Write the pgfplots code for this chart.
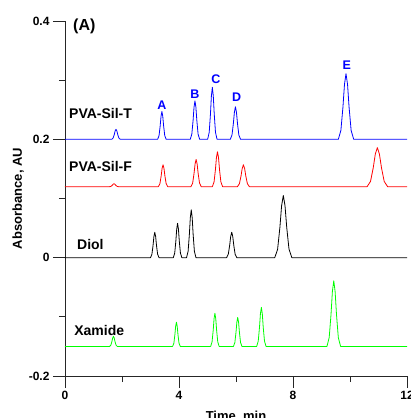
\documentclass[border=0pt]{standalone}
\usepackage{pgfplots}
\pgfplotsset{compat=1.18}
\usepackage{fontspec}
\setmainfont{Liberation Sans}

\definecolor{trblue}{RGB}{0,0,255}
\definecolor{trred}{RGB}{255,0,0}
\definecolor{trgreen}{RGB}{0,255,0}

\tikzset{
  trace/.style={line width=0.8pt, line join=round},
  tlabel/.style={font=\fontsize{14}{14}\selectfont\bfseries, anchor=west, inner sep=0pt},
  plabel/.style={font=\fontsize{12.5}{12.5}\selectfont\bfseries, text=trblue, inner sep=0pt},
}

\begin{document}
\begin{tikzpicture}
  \useasboundingbox (0,0) rectangle (411pt,418pt);
  \begin{axis}[at={(65pt,42pt)}, anchor=south west,
               width=342pt, height=355pt, scale only axis,
               xmin=0, xmax=12, ymin=-0.2, ymax=0.4,
               axis x line*=bottom, axis y line*=left,
               axis line style={line width=0.8pt, black!85},
               tick style={line width=0.8pt, black!85},
               tick align=outside,
               major tick length=12pt, minor tick length=6pt,
               xtick={0,4,8,12}, xticklabels={0,4,8,12},
               ytick={-0.2,0,0.2,0.4}, yticklabels={-0.2,0,0.2,0.4},
               minor x tick num=1, minor y tick num=1,
               tick label style={font=\fontsize{12}{12}\selectfont\bfseries},
               xlabel={Time, min}, ylabel={Absorbance, AU},
               label style={font=\fontsize{13}{13}\selectfont\bfseries},
               xlabel style={at={(axis description cs:0.5,-0.116)}, anchor=center},
               ylabel style={at={(axis description cs:-0.137,0.5)}, anchor=center},
               clip=false]
    % PVA-Sil-T
    \addplot[trace, trblue] coordinates {
      (0,0.2) (1.64,0.2) (1.69,0.2023) (1.73,0.2083) (1.76,0.2142) (1.79,0.217) (1.82,0.2142) (1.85,0.2083) (1.89,0.2023) (1.94,0.2)
      (3.25,0.2) (3.30,0.2063) (3.34,0.2229) (3.37,0.2392) (3.40,0.247) (3.43,0.2392) (3.46,0.2229) (3.50,0.2063) (3.55,0.2)
      (4.395,0.2) (4.45,0.2088) (4.494,0.2317) (4.527,0.2543) (4.56,0.265) (4.593,0.2543) (4.626,0.2317) (4.67,0.2088) (4.725,0.2)
      (5.005,0.2) (5.06,0.2119) (5.104,0.2429) (5.137,0.2735) (5.17,0.288) (5.203,0.2735) (5.236,0.2429) (5.28,0.2119) (5.335,0.2)
      (5.80,0.2) (5.86,0.2074) (5.908,0.2268) (5.944,0.2459) (5.98,0.255) (6.016,0.2459) (6.052,0.2268) (6.10,0.2074) (6.16,0.2)
      (9.59,0.2) (9.68,0.215) (9.752,0.2541) (9.806,0.2927) (9.86,0.311) (9.914,0.2927) (9.968,0.2541) (10.04,0.215) (10.13,0.2)
      (12,0.2)};
    % PVA-Sil-F
    \addplot[trace, trred] coordinates {
      (0,0.12) (1.57,0.12) (1.62,0.1207) (1.66,0.1224) (1.69,0.1242) (1.72,0.125) (1.75,0.1242) (1.78,0.1224) (1.82,0.1207) (1.87,0.12)
      (3.275,0.12) (3.33,0.125) (3.374,0.138) (3.407,0.1509) (3.44,0.157) (3.473,0.1509) (3.506,0.138) (3.55,0.125) (3.605,0.12)
      (4.42,0.12) (4.48,0.1262) (4.528,0.1424) (4.564,0.1584) (4.60,0.166) (4.636,0.1584) (4.672,0.1424) (4.72,0.1262) (4.78,0.12)
      (5.17,0.12) (5.23,0.128) (5.278,0.1487) (5.314,0.1693) (5.35,0.179) (5.386,0.1693) (5.422,0.1487) (5.47,0.128) (5.53,0.12)
      (6.05,0.12) (6.12,0.125) (6.176,0.138) (6.218,0.1509) (6.26,0.157) (6.302,0.1509) (6.344,0.138) (6.40,0.125) (6.47,0.12)
      (10.60,0.12) (10.72,0.1289) (10.816,0.1521) (10.888,0.1751) (10.96,0.186) (11.032,0.1751) (11.104,0.1521) (11.20,0.1289) (11.32,0.12)
      (12,0.12)};
    % Diol
    \addplot[trace, black] coordinates {
      (0,0) (3.00,0) (3.05,0.0058) (3.09,0.0209) (3.12,0.0359) (3.15,0.043) (3.18,0.0359) (3.21,0.0209) (3.25,0.0058) (3.30,0)
      (3.80,0) (3.85,0.0078) (3.89,0.0282) (3.92,0.0484) (3.95,0.058) (3.98,0.0484) (4.01,0.0282) (4.05,0.0078) (4.10,0)
      (4.265,0) (4.32,0.0109) (4.364,0.0394) (4.397,0.0676) (4.43,0.081) (4.463,0.0676) (4.496,0.0394) (4.54,0.0109) (4.595,0)
      (5.67,0) (5.73,0.0058) (5.778,0.0209) (5.814,0.0359) (5.85,0.043) (5.886,0.0359) (5.922,0.0209) (5.97,0.0058) (6.03,0)
      (7.36,0) (7.46,0.0142) (7.54,0.0511) (7.60,0.0877) (7.66,0.105) (7.72,0.0877) (7.78,0.0511) (7.86,0.0142) (7.96,0)
      (12,0)};
    % Xamide
    \addplot[trace, trgreen] coordinates {
      (0,-0.15) (1.565,-0.15) (1.61,-0.1477) (1.646,-0.1417) (1.673,-0.1358) (1.70,-0.133) (1.727,-0.1358) (1.754,-0.1417) (1.79,-0.1477) (1.835,-0.15)
      (3.775,-0.15) (3.82,-0.1445) (3.856,-0.13) (3.883,-0.1158) (3.91,-0.109) (3.937,-0.1158) (3.964,-0.13) (4.00,-0.1445) (4.045,-0.15)
      (5.11,-0.15) (5.16,-0.1424) (5.20,-0.1227) (5.23,-0.1032) (5.26,-0.094) (5.29,-0.1032) (5.32,-0.1227) (5.36,-0.1424) (5.41,-0.15)
      (5.91,-0.15) (5.96,-0.1434) (6.00,-0.1261) (6.03,-0.1091) (6.06,-0.101) (6.09,-0.1091) (6.12,-0.1261) (6.16,-0.1434) (6.21,-0.15)
      (6.725,-0.15) (6.78,-0.1411) (6.824,-0.1179) (6.857,-0.0949) (6.89,-0.084) (6.923,-0.0949) (6.956,-0.1179) (7.00,-0.1411) (7.055,-0.15)
      (9.19,-0.15) (9.27,-0.135) (9.334,-0.0959) (9.382,-0.0573) (9.43,-0.039) (9.478,-0.0573) (9.526,-0.0959) (9.59,-0.135) (9.67,-0.15)
      (12,-0.15)};

    \node[font=\fontsize{16}{16}\selectfont\bfseries, anchor=west, inner sep=0pt] at (axis cs:0.28,0.391) {(A)};
    \node[tlabel] at (axis cs:0.14,0.243) {PVA-Sil-T};
    \node[tlabel] at (axis cs:0.14,0.154) {PVA-Sil-F};
    \node[tlabel] at (axis cs:0.42,0.022) {Diol};
    \node[tlabel] at (axis cs:0.32,-0.123) {Xamide};
    \node[plabel] at (axis cs:3.40,0.258) {A};
    \node[plabel] at (axis cs:4.56,0.277) {B};
    \node[plabel] at (axis cs:5.29,0.302) {C};
    \node[plabel] at (axis cs:6.02,0.272) {D};
    \node[plabel] at (axis cs:9.89,0.326) {E};
  \end{axis}
\end{tikzpicture}
\end{document}
